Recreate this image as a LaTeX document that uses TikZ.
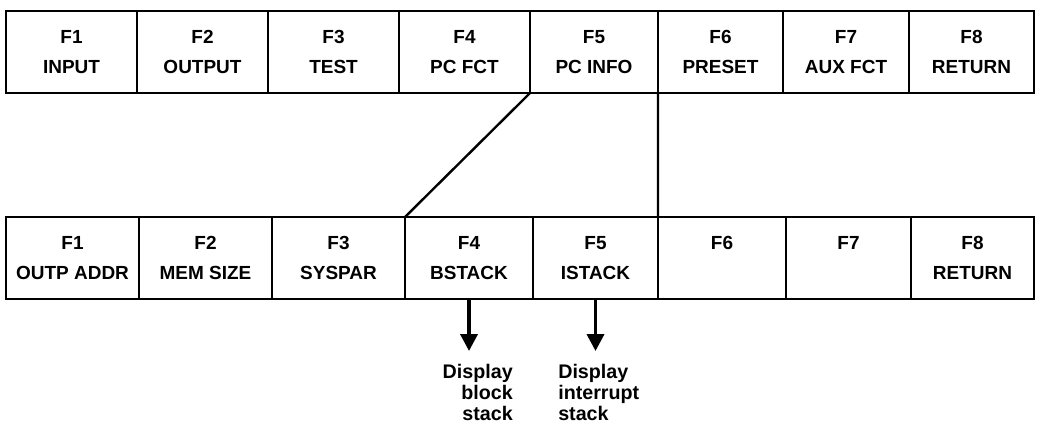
\documentclass[tikz,border=0pt]{standalone}
\usepackage{fontspec}
\setmainfont{Liberation Sans}
\usetikzlibrary{arrows.meta}
\tikzset{
  softkey/.style={draw, line width=1.7pt, inner sep=0pt, outer sep=0pt,
    anchor=north west, minimum height=2.05cm, align=center,
    font=\bfseries\fontsize{13.5}{21.5}\selectfont},
  keyarrow/.style={line width=2.6pt, -{Triangle[width=12pt,length=12pt]}},
  note/.style={inner sep=0pt, font=\bfseries\fontsize{14}{15}\selectfont}
}
\begin{document}
\begin{tikzpicture}[x=0.025cm,y=-0.025cm]
  \useasboundingbox (0,0) rectangle (1040,428);
  % main soft key row
  \foreach \i/\x/\w/\txt in {1/6/3.275/INPUT, 2/137/3.275/OUTPUT, 3/268/3.275/TEST,
      4/399/3.275/PC FCT, 5/530/3.2/PC INFO, 6/658/3.125/PRESET,
      7/783/3.15/AUX FCT, 8/909/3.125/RETURN}
    \node[softkey, minimum width=\w cm] (t\i) at (\x,11) {F\i\\\txt};
  % PC INFO sub menu
  \foreach \i/\x/\w/\txt in {1/6/3.325/OUTP ADDR, 2/139/3.325/MEM SIZE, 3/272/3.325/SYSPAR,
      4/405/3.2/BSTACK, 5/533/3.125/ISTACK, 6/658/3.2/\mbox{},
      7/786/3.125/\mbox{}, 8/911/3.075/RETURN}
    \node[softkey, minimum width=\w cm] (b\i) at (\x,217) {F\i\\\txt};
  \draw[line width=1.7pt] (t4.south east) -- (b3.north east);
  \draw[line width=1.7pt] (t5.south east) -- (b5.north east);
  % stack displays
  \node[note, anchor=north east, align=right] (blk) at (513,364) {Display\\block\\stack};
  \node[note, anchor=north west, align=left] (irq) at (558,364) {Display\\interrupt\\stack};
  \path (b4.south) ++(0,52) coordinate (e4);
  \path (b5.south) ++(0,52) coordinate (e5);
  \draw[keyarrow] (b4.south) -- (e4);
  \draw[keyarrow] (b5.south) -- (e5);
\end{tikzpicture}
\end{document}
